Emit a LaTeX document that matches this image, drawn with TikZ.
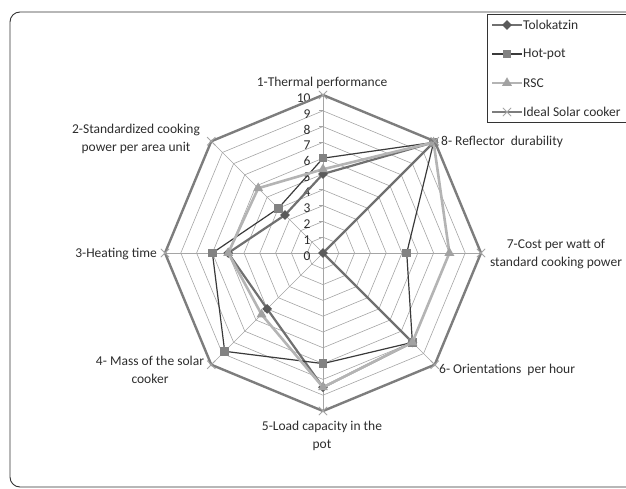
\documentclass[tikz,border=0pt]{standalone}
\usepackage{fontspec}
\setmainfont{Carlito}
\usepackage{tikz}
\usetikzlibrary{shapes.geometric, shapes.misc}
\definecolor{tologray}{RGB}{112,112,112}
\definecolor{hotdark}{RGB}{58,58,58}
\definecolor{hotmarkgray}{RGB}{130,130,130}
\definecolor{rscgray}{RGB}{180,180,180}
\definecolor{idealgray}{RGB}{125,125,125}
\definecolor{gridgray}{RGB}{165,165,165}
\definecolor{textgray}{RGB}{45,45,45}
\tikzstyle{ring} = [draw=gridgray, line width=0.6pt]
\tikzstyle{spoke} = [draw=gridgray, line width=0.6pt]
\tikzstyle{toloseries} = [draw=tologray, line width=2.2pt, line join=round]
\tikzstyle{hotseries} = [draw=hotdark, line width=1.2pt, line join=round]
\tikzstyle{rscseries} = [draw=rscgray, line width=2.6pt, line join=round]
\tikzstyle{idealseries} = [draw=idealgray, line width=2.4pt, line join=round]
\tikzstyle{tolomark} = [diamond, fill=tologray!80!black, inner sep=0pt, minimum size=10pt]
\tikzstyle{hotmark} = [rectangle, fill=hotmarkgray, inner sep=0pt, minimum size=8.5pt]
\tikzstyle{rscmark} = [regular polygon, regular polygon sides=3, fill=rscgray!90!black, inner sep=0pt, minimum size=11.5pt]
\tikzstyle{idealmark} = [cross out, draw=gridgray, line width=0.8pt, inner sep=0pt, minimum size=7.5pt]
\tikzstyle{axislabel} = [text=textgray, font=\fontsize{13.5}{17.5}\selectfont, align=center, inner sep=0pt]
\tikzstyle{ticklabel} = [text=textgray, font=\fontsize{13.5}{16}\selectfont, anchor=east, inner sep=0pt]
\tikzstyle{legendtext} = [text=textgray, font=\fontsize{13.5}{16}\selectfont, anchor=west, inner sep=0pt]
\tikzstyle{frame} = [draw=black!80, line width=0.9pt]
\begin{document}
\begin{tikzpicture}[x=1pt, y=1pt]
\useasboundingbox (-323,-236) rectangle (303,253);

% chart area and legend box
\draw[frame, rounded corners=10pt] (-313,241) rectangle (330,-234);
\draw[frame] (164,239) rectangle (330,131);

\begin{scope}[x=15.8pt, y=15.8pt]
% web
\foreach \r in {1,...,9}
  \draw[ring] (90:\r) -- (135:\r) -- (180:\r) -- (225:\r) -- (270:\r) -- (315:\r) -- (0:\r) -- (45:\r) -- cycle;
\foreach \a in {0,45,...,315}
  \draw[spoke] (0,0) -- (\a:10);
\foreach \r in {0,...,10} {
  \draw[spoke] (-0.25,\r) -- (0,\r);
  \node[ticklabel] (n\r) at (-0.78,\r-0.18) {\r};
}

% data points
\foreach \v [count=\k] in {5,3.4,6,5,8.5,8,0,9.9}
  \coordinate (t\k) at ({90+45*(\k-1)}:\v);
\foreach \v [count=\k] in {6,4,7,8.8,7,8,5.3,9.9}
  \coordinate (h\k) at ({90+45*(\k-1)}:\v);
\foreach \v [count=\k] in {5.3,5.8,6,5.5,8.5,8,8,9.9}
  \coordinate (s\k) at ({90+45*(\k-1)}:\v);
\foreach \k in {1,...,8}
  \coordinate (i\k) at ({90+45*(\k-1)}:10);

% Tolokatzin
\draw[toloseries] (t1) -- (t2) -- (t3) -- (t4) -- (t5) -- (t6) -- (t7) -- (t8) -- cycle;
\foreach \k in {1,...,8} \node[tolomark] (tm\k) at (t\k) {};
% Hot-pot
\draw[hotseries] (h1) -- (h2) -- (h3) -- (h4) -- (h5) -- (h6) -- (h7) -- (h8) -- cycle;
\foreach \k in {1,...,8} \node[hotmark] (hm\k) at (h\k) {};
% RSC
\draw[rscseries] (s1) -- (s2) -- (s3) -- (s4) -- (s5) -- (s6) -- (s7) -- (s8) -- cycle;
\foreach \k in {1,...,8} \node[rscmark] (sm\k) at (s\k) {};
% Ideal Solar cooker
\draw[idealseries] (i1) -- (i2) -- (i3) -- (i4) -- (i5) -- (i6) -- (i7) -- (i8) -- cycle;
\foreach \k in {1,...,8} \node[idealmark] (im\k) at (i\k) {};
\end{scope}

% axis labels
\node[axislabel] (l1) at (-1,170) {1-Thermal performance};
\node[axislabel] (l2) at (-187,114) {2-Standardized cooking\\power per area unit};
\node[axislabel, anchor=east] (l3) at (-166,-1) {3-Heating time};
\node[axislabel] (l4) at (-173,-117) {4- Mass of the solar\\cooker};
\node[axislabel] (l5) at (-1,-183) {5-Load capacity in the\\pot};
\node[axislabel, anchor=west] (l6) at (116,-117) {6- Orientations\ \ per hour};
\node[axislabel] (l7) at (233,-1) {7-Cost per watt of\\standard cooking power};
\node[axislabel, anchor=west] (l8) at (118,111) {8- Reflector\ \ durability};

% legend
\foreach \txt/\lsty/\msty/\y in {Tolokatzin/toloseries/tolomark/228, Hot-pot/hotseries/hotmark/199, RSC/rscseries/rscmark/170, Ideal Solar cooker/idealseries/idealmark/141} {
  \coordinate (la\y) at (169,\y);
  \coordinate (lb\y) at (199,\y);
  \draw[\lsty] (la\y) -- (lb\y);
  \node[\msty] (lm\y) at (184,\y) {};
  \node[legendtext] (lt\y) at (200,\y) {\txt};
}
\end{tikzpicture}
\end{document}
